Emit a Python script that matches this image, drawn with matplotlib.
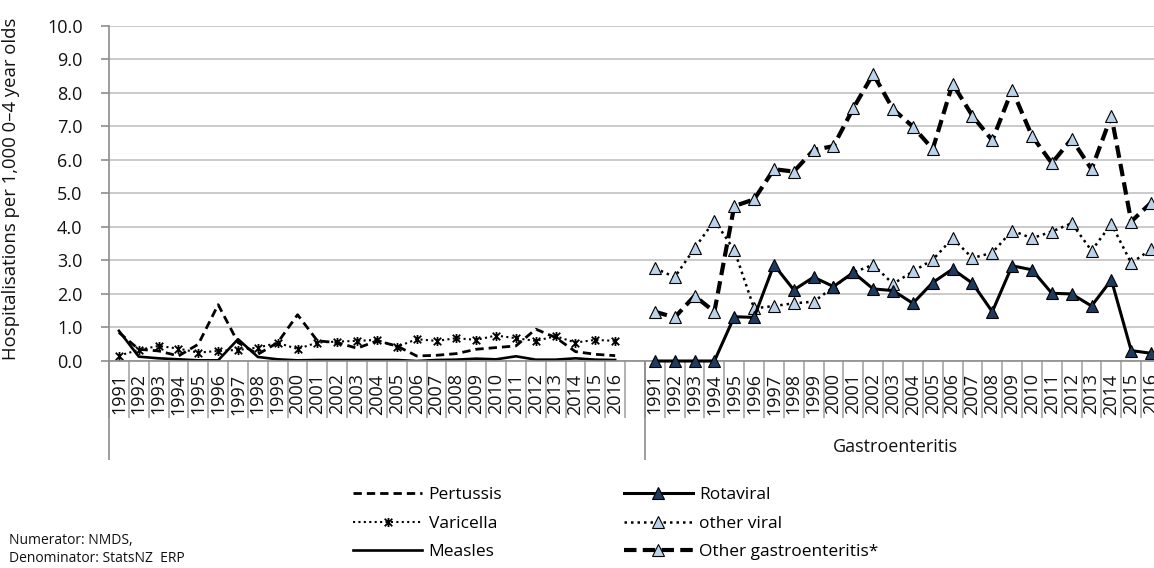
import numpy as np
import matplotlib
matplotlib.use("Agg")
import matplotlib.pyplot as plt
from matplotlib.path import Path
import matplotlib.transforms as mtransforms

plt.rcParams['font.family'] = ['Open Sans', 'DejaVu Sans']

# Data (hospitalisations per 1,000 0-4 year olds)
years = [str(y) for y in range(1991, 2017)]

pertussis = [0.85, 0.35, 0.30, 0.15, 0.50, 1.68, 0.55, 0.20, 0.55, 1.38,
             0.60, 0.55, 0.38, 0.60, 0.45, 0.15, 0.17, 0.22, 0.35, 0.40,
             0.45, 0.95, 0.70, 0.28, 0.20, 0.16]
varicella = [0.16, 0.33, 0.45, 0.37, 0.25, 0.30, 0.33, 0.40, 0.54, 0.36,
             0.55, 0.58, 0.60, 0.63, 0.42, 0.65, 0.60, 0.68, 0.63, 0.76,
             0.68, 0.60, 0.74, 0.55, 0.63, 0.60]
measles = [0.90, 0.13, 0.08, 0.05, 0.02, 0.02, 0.65, 0.12, 0.05, 0.02,
           0.03, 0.03, 0.03, 0.03, 0.03, 0.00, 0.03, 0.04, 0.07, 0.05,
           0.14, 0.04, 0.04, 0.08, 0.04, 0.03]

rotaviral = [0.00, 0.00, 0.00, 0.00, 1.32, 1.30, 2.87, 2.12, 2.50, 2.22,
             2.64, 2.15, 2.10, 1.72, 2.34, 2.74, 2.32, 1.47, 2.84, 2.72,
             2.02, 2.00, 1.64, 2.42, 0.31, 0.23]
other_viral = [2.77, 2.50, 3.36, 4.19, 3.31, 1.57, 1.64, 1.72, 1.77, 2.20,
               2.64, 2.87, 2.30, 2.67, 3.02, 3.66, 3.07, 3.23, 3.89, 3.66,
               3.86, 4.11, 3.29, 4.09, 2.92, 3.33]
other_gastro = [1.47, 1.30, 1.94, 1.47, 4.62, 4.82, 5.72, 5.65, 6.29, 6.41,
                7.54, 8.56, 7.51, 6.99, 6.32, 8.27, 7.31, 6.58, 8.09, 6.71,
                5.90, 6.62, 5.72, 7.31, 4.16, 4.72]

group_labels = ['', 'Gastroenteritis']

# category positions: 26 years, one blank slot, 26 years
n = len(years)
x_left = np.arange(n)
x_right = np.arange(n + 1, 2 * n + 1)
x_all = np.concatenate([x_left, x_right])
tick_labels = years + years

W, H = 1154, 568
fig = plt.figure(figsize=(W / 100, H / 100), dpi=100)
ax = fig.add_axes([109 / W, 1 - 361 / H, (1161 - 109) / W, (361 - 25.7) / H])

dark_tri = '#1f3a5f'
light_tri = '#bcd2ea'

# star marker (x with a vertical stroke)
star = Path([(-1, -1), (1, 1), (-1, 1), (1, -1), (0, -1.2), (0, 1.2)],
            [Path.MOVETO, Path.LINETO, Path.MOVETO, Path.LINETO, Path.MOVETO, Path.LINETO])

l1, = ax.plot(x_left, pertussis, color='black', lw=2.0, linestyle=(0, (3.0, 1.8)), label='Pertussis')
l2, = ax.plot(x_left, varicella, color='black', lw=1.5, linestyle=(0, (1, 1.6)),
              marker=star, ms=6.5, mew=1.3, mec='black', label='Varicella')
l3, = ax.plot(x_left, measles, color='black', lw=1.9, label='Measles')

r1, = ax.plot(x_right, rotaviral, color='black', lw=2.2, marker='^', ms=8.5,
              mfc=dark_tri, mec='black', mew=0.8, label='Rotaviral', clip_on=False, zorder=4)
r2, = ax.plot(x_right, other_viral, color='black', lw=1.8, linestyle=(0, (1, 1.6)), marker='^', ms=8.5,
              mfc=light_tri, mec='black', mew=0.8, label='other viral', zorder=3)
r3, = ax.plot(x_right, other_gastro, color='black', lw=3.0, linestyle=(0, (3.0, 1.5)), marker='^', ms=8.5,
              mfc=light_tri, mec='black', mew=0.8, label='Other gastroenteritis*', zorder=3)

# axes styling
ax.set_xlim(-0.5, 2 * n + 0.5)
ax.set_ylim(0, 10)
ax.set_yticks(np.arange(0, 11, 1))
ax.set_yticklabels([f'{v:.1f}' for v in range(11)], fontsize=13)
ax.yaxis.grid(True, color='#c6c6c6', lw=1.3)
ax.set_axisbelow(True)
for s in ['top', 'right']:
    ax.spines[s].set_visible(False)
for s in ['left', 'bottom']:
    ax.spines[s].set_color('#8c8c8c')
    ax.spines[s].set_linewidth(1.2)
ax.tick_params(axis='y', length=6, width=1.2, color='#8c8c8c', pad=13, labelcolor='#111111')

ax.set_xticks(x_all)
ax.set_xticklabels(tick_labels, rotation=90, fontsize=13, va='top', ha='center')
ax.tick_params(axis='x', which='major', length=0, pad=9, labelcolor='#111111')
ax.set_xticks(np.arange(-0.5, 2 * n + 1, 1), minor=True)
ax.tick_params(axis='x', which='minor', length=41, width=1.2, color='#a6a6a6')

# group separators and group label
trans = mtransforms.blended_transform_factory(ax.transData, ax.transAxes)
ax.vlines([-0.5, n + 0.5, 2 * n + 0.5], -0.295, 0, transform=trans, colors='#8c8c8c',
          lw=1.2, clip_on=False)
ax.text(x_right.mean() - 0.4, -0.256, group_labels[1], transform=trans, ha='center', va='center',
        fontsize=13, color='#111111')

ax.set_ylabel('Hospitalisations per 1,000 0\u20134 year olds', fontsize=13.3, color='#111111')
ax.yaxis.set_label_coords(-0.085, 0.515)

fig.legend(handles=[l1, l2, l3, r1, r2, r3], loc='upper left', bbox_to_anchor=(353 / W, 1 - 487 / H),
           ncol=2, frameon=False, fontsize=12.5, handlelength=4.0, handletextpad=0.35,
           columnspacing=7.0, labelspacing=0.72, numpoints=1, borderpad=0, borderaxespad=0)

fig.text(9 / W, 1 - 540 / H, 'Numerator: NMDS,', fontsize=10, va='center', color='#111111')
fig.text(9 / W, 1 - 559 / H, 'Denominator: StatsNZ  ERP', fontsize=10, va='center', color='#111111')

fig.savefig('out.png', dpi=100)
